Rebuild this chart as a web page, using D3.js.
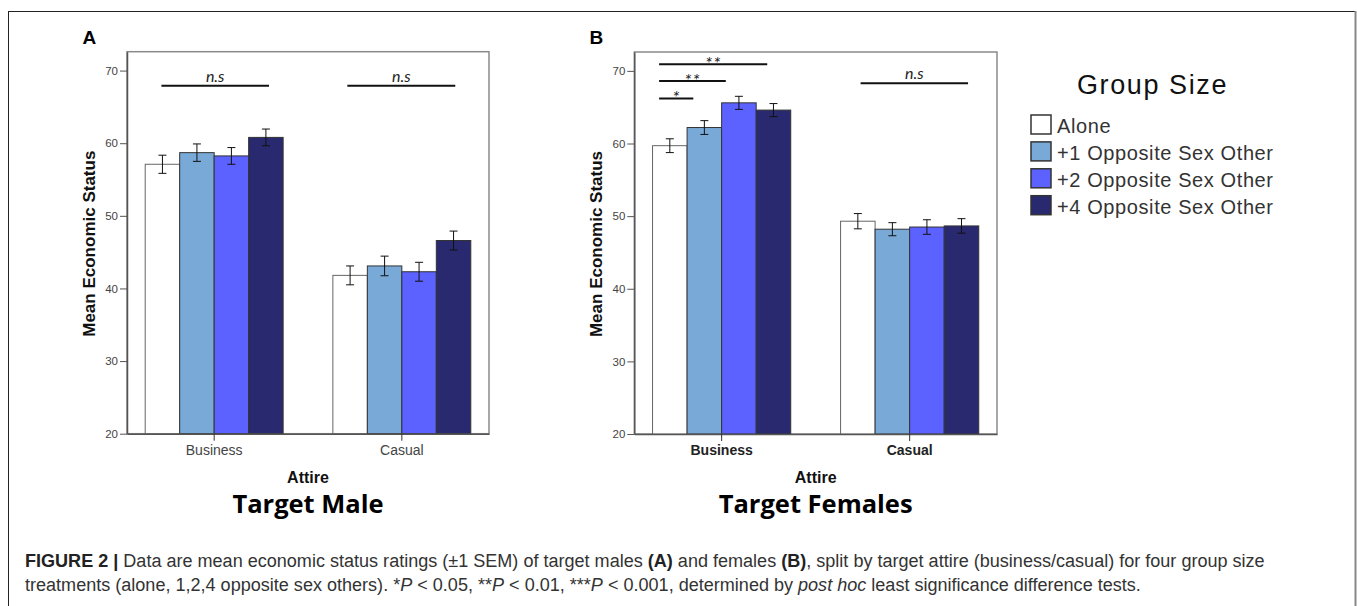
<!DOCTYPE html>
<html>
<head>
<meta charset="utf-8">
<script src="https://cdn.jsdelivr.net/npm/d3@7"></script>
<style>
  html, body { margin: 0; padding: 0; background: #fff; }
  svg { display: block; }
</style>
</head>
<body>
<svg id="chart" width="1357" height="606"></svg>
<script>
// ---------------- DATA ----------------
const categories = ["Business", "Casual"];
const groups = ["Alone", "+1 Opposite Sex Other", "+2 Opposite Sex Other", "+4 Opposite Sex Other"];
const colors = ["#ffffff", "#79a9d7", "#5c62ff", "#29296f"];
const yTicks = [20, 30, 40, 50, 60, 70];

// Target Male (A): mean per [category][group]
const maleBusiness = [57.1, 58.7, 58.25, 60.8];
const maleCasual   = [41.8, 43.1, 42.3, 46.6];
const maleBusinessSEM = [1.25, 1.2, 1.15, 1.15];
const maleCasualSEM   = [1.3, 1.35, 1.3, 1.3];

// Target Females (B)
const femaleBusiness = [59.7, 62.2, 65.6, 64.6];
const femaleCasual   = [49.3, 48.2, 48.5, 48.65];
const femaleBusinessSEM = [0.95, 0.95, 0.9, 0.9];
const femaleCasualSEM   = [1.05, 0.9, 1.0, 1.0];

// significance annotations (bar-index span, value level, label)
const maleSig = [
  {cat: "Business", from: 0.47, to: 3.59, level: 67.9, label: "n.s", italic: true},
  {cat: "Casual",   from: 0.42, to: 3.55, level: 67.9, label: "n.s", italic: true}
];
const femaleSig = [
  {cat: "Business", from: 0.19, to: 3.32, level: 70.9, label: "**"},
  {cat: "Business", from: 0.19, to: 2.12, level: 68.6, label: "**"},
  {cat: "Business", from: 0.19, to: 1.18, level: 66.2, label: "*"},
  {cat: "Casual",   from: 0.58, to: 3.69, level: 68.3, label: "n.s", italic: true}
];

// ---------------- DRAW ----------------
const svg = d3.select("#chart");
const SANS = "'Liberation Sans', Arial, sans-serif";

// outer frame
svg.append("line").attr("x1", 8.5).attr("x2", 8.5).attr("y1", 11).attr("y2", 606).attr("stroke", "#222").attr("stroke-width", 1);
svg.append("line").attr("x1", 8).attr("x2", 1355).attr("y1", 11.5).attr("y2", 11.5).attr("stroke", "#222").attr("stroke-width", 1);
svg.append("line").attr("x1", 1355.5).attr("x2", 1355.5).attr("y1", 11).attr("y2", 606).attr("stroke", "#888").attr("stroke-width", 2);

function panel(opts) {
  const {left, right, top, bottom, means, sems, sig, letter, title, boldCats} = opts;
  const g = svg.append("g");
  const y = d3.scaleLinear().domain([20, 72.6]).range([bottom, top]);
  const x = d3.scaleBand().domain(categories).range([left, right]).paddingInner(0.265).paddingOuter(0.097);
  const xs = d3.scaleBand().domain(d3.range(groups.length)).range([0, x.bandwidth()]).padding(0);

  // plot box
  g.append("rect").attr("x", left).attr("y", top).attr("width", right - left).attr("height", bottom - top)
    .attr("fill", "none").attr("stroke", "#8a8a8a").attr("stroke-width", 1.5);

  // bars
  categories.forEach((c, ci) => {
    const vals = means[ci], errs = sems[ci];
    const bg = g.append("g");
    vals.forEach((v, i) => {
      const bx = x(c) + xs(i);
      bg.append("rect").attr("x", bx).attr("y", y(v)).attr("width", xs.bandwidth()).attr("height", y(20) - y(v))
        .attr("fill", colors[i]).attr("stroke", i === 0 ? "#666" : "#333").attr("stroke-width", 1);
    });
    vals.forEach((v, i) => {
      const cx = x(c) + xs(i) + xs.bandwidth() / 2;
      const e = errs[i];
      bg.append("line").attr("x1", cx).attr("x2", cx).attr("y1", y(v + e)).attr("y2", y(v - e)).attr("stroke", "#111").attr("stroke-width", 1);
      [v + e, v - e].forEach(t => {
        bg.append("line").attr("x1", cx - 4).attr("x2", cx + 4).attr("y1", y(t)).attr("y2", y(t)).attr("stroke", "#111").attr("stroke-width", 1);
      });
    });
  });

  // y axis
  const ya = g.append("g").attr("transform", `translate(${left},0)`)
    .call(d3.axisLeft(y).tickValues(yTicks).tickSize(7).tickSizeOuter(0).tickPadding(2).tickFormat(d3.format("d")));
  ya.select(".domain").attr("stroke", "#555").attr("stroke-width", 1.5);
  ya.selectAll(".tick line").attr("stroke", "#555");
  ya.selectAll(".tick text").attr("font-family", SANS).attr("font-size", 11.5).attr("fill", "#444");

  // x axis
  const xa = g.append("g").attr("transform", `translate(0,${bottom})`)
    .call(d3.axisBottom(x).tickSize(7).tickPadding(4).tickSizeOuter(0));
  xa.select(".domain").attr("stroke", "#555").attr("stroke-width", 1.5);
  xa.selectAll(".tick line").attr("stroke", "#333");
  xa.selectAll(".tick text").attr("font-family", SANS).attr("font-size", 14)
    .attr("fill", boldCats ? "#222" : "#444").attr("font-weight", boldCats ? "bold" : "normal");

  // significance annotations
  sig.forEach(s => {
    const x0 = x(s.cat) + s.from * xs.bandwidth();
    const x1 = x(s.cat) + s.to * xs.bandwidth();
    const ly = y(s.level);
    g.append("line").attr("x1", x0).attr("x2", x1).attr("y1", ly).attr("y2", ly).attr("stroke", "#111").attr("stroke-width", 2);
    g.append("text").attr("x", (x0 + x1) / 2).attr("y", s.italic ? ly - 4 : ly + 6)
      .attr("text-anchor", "middle").attr("font-family", "Lato, sans-serif").attr("font-style", "italic")
      .attr("font-size", s.italic ? 16 : 18).attr("letter-spacing", s.italic ? 0 : 1).attr("fill", "#222").text(s.label);
  });

  const cx = (left + right) / 2;
  // y label
  g.append("text").attr("transform", `translate(${left - 32},${(top + bottom) / 2 + 1}) rotate(-90)`)
    .attr("text-anchor", "middle").attr("font-family", SANS).attr("font-weight", "bold").attr("font-size", 17)
    .attr("fill", "#111").text("Mean Economic Status");
  // x label
  g.append("text").attr("x", cx).attr("y", 483).attr("text-anchor", "middle").attr("font-family", SANS)
    .attr("font-weight", "bold").attr("font-size", 16).attr("fill", "#111").text("Attire");
  // panel title
  g.append("text").attr("x", cx).attr("y", 512.5).attr("text-anchor", "middle").attr("font-family", "'Open Sans', sans-serif")
    .attr("font-weight", "bold").attr("font-size", 25.5).attr("fill", "#000").text(title);
  // panel letter
  g.append("text").attr("x", letter.x).attr("y", 43.5).attr("font-family", SANS).attr("font-weight", "bold")
    .attr("font-size", 19).attr("fill", "#000").text(letter.t);
}

panel({left: 127, right: 489, top: 51.7, bottom: 433.7,
  means: [maleBusiness, maleCasual], sems: [maleBusinessSEM, maleCasualSEM],
  sig: maleSig, letter: {t: "A", x: 82.5}, title: "Target Male", boldCats: false});

panel({left: 634.3, right: 997, top: 52, bottom: 434,
  means: [femaleBusiness, femaleCasual], sems: [femaleBusinessSEM, femaleCasualSEM],
  sig: femaleSig, letter: {t: "B", x: 589.5}, title: "Target Females", boldCats: true});

// legend
const lg = svg.append("g");
lg.append("text").attr("x", 1152.5).attr("y", 94.3).attr("text-anchor", "middle").attr("font-family", SANS)
  .attr("font-size", 27).attr("letter-spacing", 1.6).attr("fill", "#111").text("Group Size");
groups.forEach((gname, i) => {
  const yy = 115 + i * 26.9;
  lg.append("rect").attr("x", 1031).attr("y", yy).attr("width", 20).attr("height", 19)
    .attr("fill", colors[i]).attr("stroke", "#333").attr("stroke-width", 1.5);
  lg.append("text").attr("x", 1057).attr("y", yy + 18.3).attr("font-family", SANS).attr("font-size", 20)
    .attr("letter-spacing", 0.6).attr("fill", "#333").text(gname);
});

// caption
const cap1 = svg.append("text").attr("x", 25).attr("y", 567.3).attr("font-family", SANS).attr("font-size", 16).attr("fill", "#333");
[["FIGURE 2 | ", "bold"], ["Data are mean economic status ratings (±1 SEM) of target males ", ""], ["(A)", "bold"],
 [" and females ", ""], ["(B)", "bold"], [", split by target attire (business/casual) for four group size", ""]]
  .forEach(([t, s]) => {
    const ts = cap1.append("tspan").text(t);
    if (s === "bold") ts.attr("font-weight", "bold").attr("fill", "#222");
  });
const cap2 = svg.append("text").attr("x", 25).attr("y", 590.7).attr("font-family", SANS).attr("font-size", 16).attr("fill", "#333");
[["treatments (alone, 1,2,4 opposite sex others). *", ""], ["P", "i"], [" < 0.05, **", ""], ["P", "i"], [" < 0.01, ***", ""],
 ["P", "i"], [" < 0.001, determined by ", ""], ["post hoc", "i"], [" least significance difference tests.", ""]]
  .forEach(([t, s]) => {
    const ts = cap2.append("tspan").text(t);
    if (s === "i") ts.attr("font-style", "italic");
  });
// fit caption width to the reference line length
const w1 = cap1.node().getComputedTextLength();
const fs = 16 * 1240 / w1;
cap1.attr("font-size", fs);
cap2.attr("font-size", fs);
</script>
</body>
</html>
